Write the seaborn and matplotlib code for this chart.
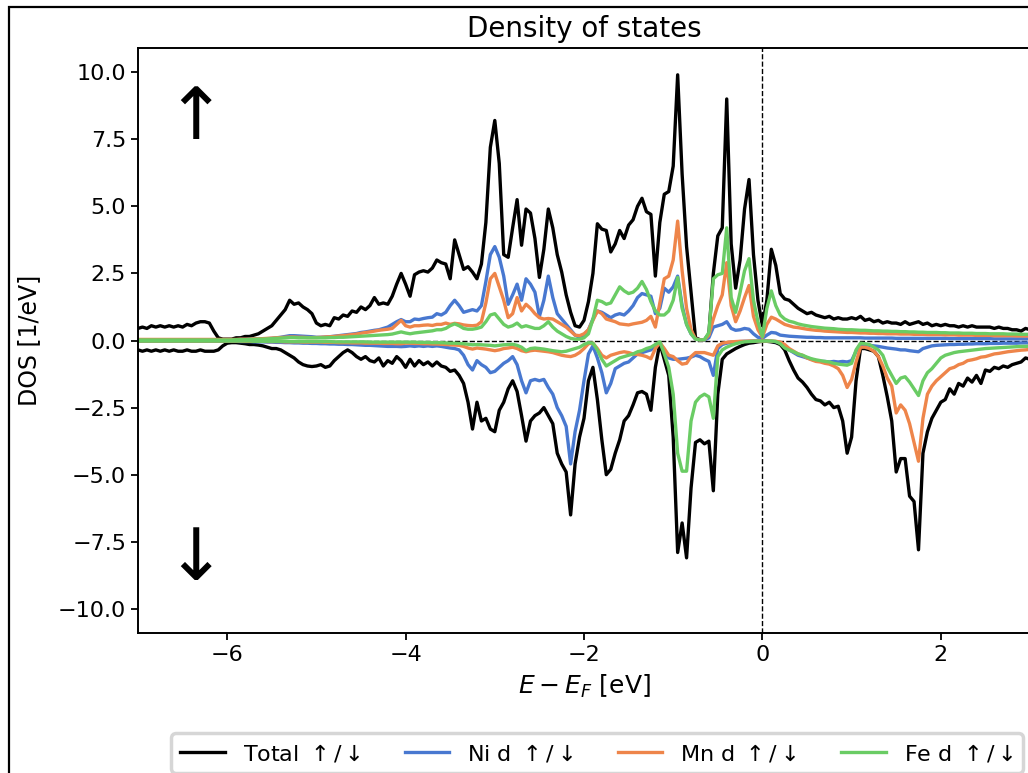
import numpy as np
import matplotlib
matplotlib.use("Agg")
import matplotlib.pyplot as plt
from matplotlib.patches import Rectangle
import seaborn as sns

# Energy grid relative to the Fermi level (eV), 0.05 eV spacing
energy = np.linspace(-7.0, 3.0, 201)

# Total DOS, spin up / spin down (1/eV)
total_up = [
    0.45, 0.50, 0.45, 0.55, 0.50, 0.55, 0.50, 0.55, 0.50, 0.55, 0.50, 0.60, 0.55, 0.65, 0.70, 0.70, 0.65, 0.35, 0.10, 0.05,
    0.05, 0.05, 0.10, 0.10, 0.15, 0.15, 0.20, 0.25, 0.35, 0.45, 0.55, 0.75, 0.95, 1.15, 1.50, 1.35, 1.40, 1.25, 1.15, 1.00,
    0.65, 0.55, 0.60, 0.55, 0.85, 0.80, 0.95, 0.90, 1.10, 1.05, 1.25, 1.15, 1.30, 1.60, 1.35, 1.40, 1.35, 1.65, 2.10, 2.50,
    2.10, 1.65, 2.45, 2.55, 2.60, 2.55, 2.70, 3.00, 2.90, 2.85, 2.30, 3.75, 3.20, 2.65, 2.75, 2.55, 2.30, 2.85, 4.40, 7.20,
    8.20, 6.60, 3.20, 3.10, 4.20, 5.25, 3.55, 4.90, 4.75, 3.80, 2.35, 3.40, 4.90, 4.20, 3.20, 2.55, 1.70, 1.05, 0.55, 0.50,
    0.75, 1.45, 2.50, 4.35, 4.15, 4.10, 3.30, 3.60, 4.10, 3.80, 4.30, 4.50, 5.00, 5.30, 4.80, 4.70, 2.40, 4.40, 5.45, 5.55,
    6.50, 9.90, 6.20, 3.50, 1.80, 0.10, 0.03, 0.03, 0.25, 2.50, 3.90, 4.20, 9.00, 3.60, 1.95, 3.00, 4.90, 6.00, 3.20, 1.50,
    0.55, 1.50, 3.40, 2.80, 1.75, 1.55, 1.50, 1.35, 1.20, 1.10, 1.00, 1.05, 0.95, 0.90, 0.85, 0.90, 0.80, 0.85, 0.80, 0.80,
    0.85, 0.80, 0.90, 0.75, 0.80, 0.70, 0.75, 0.65, 0.70, 0.65, 0.65, 0.60, 0.70, 0.60, 0.65, 0.70, 0.60, 0.65, 0.55, 0.60,
    0.55, 0.60, 0.55, 0.55, 0.50, 0.55, 0.50, 0.55, 0.50, 0.50, 0.50, 0.50, 0.45, 0.50, 0.45, 0.45, 0.40, 0.40, 0.35, 0.45,
    0.40,
]
total_dn = [
    -0.35, -0.40, -0.35, -0.40, -0.35, -0.40, -0.35, -0.40, -0.35, -0.40, -0.40, -0.35, -0.40, -0.40, -0.35, -0.40, -0.40, -0.40, -0.35, -0.20,
    -0.10, -0.08, -0.08, -0.10, -0.12, -0.15, -0.15, -0.17, -0.20, -0.25, -0.30, -0.30, -0.35, -0.45, -0.55, -0.65, -0.80, -0.90, -0.95, -0.97,
    -0.95, -0.90, -1.00, -0.95, -0.75, -0.60, -0.45, -0.35, -0.45, -0.60, -0.70, -0.60, -0.75, -0.80, -0.65, -0.95, -0.75, -0.85, -0.60, -0.75,
    -1.00, -0.70, -0.95, -0.75, -0.90, -0.80, -0.95, -0.80, -0.95, -1.00, -1.15, -1.10, -1.30, -1.60, -2.30, -3.30, -2.30, -3.00, -2.90, -3.30,
    -3.40, -2.60, -2.30, -1.80, -1.50, -1.90, -2.80, -3.75, -3.00, -2.80, -2.70, -2.50, -2.80, -3.10, -4.20, -4.60, -4.90, -6.50, -4.60, -3.60,
    -2.90, -1.50, -1.00, -2.20, -3.70, -5.00, -4.80, -4.20, -3.70, -3.00, -2.80, -2.40, -1.95, -1.90, -2.00, -2.60, -1.00, -0.10, -0.70, -1.30,
    -3.60, -7.90, -6.80, -8.10, -5.50, -3.80, -3.70, -3.85, -3.75, -5.60, -2.00, -0.70, -0.50, -0.40, -0.30, -0.22, -0.15, -0.10, -0.08, -0.05,
    -0.03, -0.03, -0.05, -0.08, -0.15, -0.35, -0.75, -1.10, -1.40, -1.55, -1.75, -2.00, -2.20, -2.25, -2.40, -2.30, -2.50, -2.45, -3.00, -4.20,
    -3.60, -1.50, -0.30, -0.30, -0.35, -0.40, -0.60, -1.30, -2.10, -3.00, -4.90, -4.40, -4.40, -5.80, -6.00, -7.80, -4.20, -3.40, -2.90, -2.60,
    -2.30, -2.20, -1.80, -2.00, -1.60, -1.70, -1.40, -1.55, -1.30, -1.60, -1.10, -1.15, -1.00, -1.05, -0.95, -1.00, -0.90, -0.85, -0.80, -0.65,
    -0.70,
]

# Ni d projected DOS
ni_up = [
    0.03, 0.03, 0.03, 0.03, 0.03, 0.03, 0.03, 0.03, 0.03, 0.03, 0.03, 0.03, 0.03, 0.03, 0.03, 0.03, 0.03, 0.03, 0.03, 0.03,
    0.03, 0.03, 0.03, 0.04, 0.04, 0.05, 0.05, 0.05, 0.06, 0.07, 0.08, 0.10, 0.12, 0.15, 0.18, 0.18, 0.17, 0.16, 0.15, 0.14,
    0.12, 0.12, 0.13, 0.14, 0.16, 0.18, 0.20, 0.22, 0.24, 0.26, 0.30, 0.32, 0.35, 0.38, 0.40, 0.45, 0.50, 0.60, 0.70, 0.78,
    0.70, 0.70, 0.80, 0.78, 0.82, 0.85, 0.87, 1.00, 0.95, 1.05, 1.30, 1.50, 1.30, 1.05, 1.10, 1.15, 1.10, 1.30, 2.20, 3.20,
    3.50, 3.10, 2.40, 1.35, 1.70, 2.10, 1.50, 2.30, 2.10, 1.80, 0.90, 1.50, 2.40, 1.60, 1.00, 0.80, 0.60, 0.40, 0.20, 0.12,
    0.20, 0.40, 0.80, 1.10, 1.05, 0.95, 0.85, 0.95, 1.00, 0.95, 1.10, 1.30, 1.60, 1.75, 1.70, 1.65, 1.00, 1.20, 1.95, 1.80,
    2.00, 2.40, 1.30, 0.60, 0.25, 0.05, 0.02, 0.02, 0.10, 0.50, 0.55, 0.60, 0.70, 0.45, 0.38, 0.40, 0.45, 0.42, 0.25, 0.12,
    0.08, 0.20, 0.30, 0.28, 0.20, 0.18, 0.16, 0.15, 0.14, 0.13, 0.12, 0.12, 0.11, 0.11, 0.10, 0.10, 0.10, 0.10, 0.10, 0.10,
    0.10, 0.10, 0.10, 0.09, 0.09, 0.09, 0.09, 0.09, 0.09, 0.09, 0.08, 0.08, 0.08, 0.08, 0.08, 0.08, 0.08, 0.08, 0.08, 0.08,
    0.08, 0.08, 0.07, 0.07, 0.07, 0.07, 0.07, 0.07, 0.07, 0.07, 0.07, 0.07, 0.06, 0.06, 0.06, 0.06, 0.06, 0.06, 0.06, 0.06,
    0.06,
]
ni_dn = [
    -0.03, -0.03, -0.03, -0.03, -0.03, -0.03, -0.03, -0.03, -0.03, -0.03, -0.03, -0.03, -0.03, -0.03, -0.03, -0.03, -0.03, -0.03, -0.03, -0.03,
    -0.03, -0.03, -0.03, -0.04, -0.04, -0.04, -0.05, -0.05, -0.05, -0.06, -0.06, -0.07, -0.07, -0.08, -0.08, -0.09, -0.09, -0.10, -0.10, -0.11,
    -0.11, -0.12, -0.12, -0.13, -0.13, -0.14, -0.14, -0.15, -0.15, -0.16, -0.17, -0.18, -0.18, -0.19, -0.20, -0.21, -0.22, -0.22, -0.22, -0.23,
    -0.22, -0.20, -0.22, -0.20, -0.22, -0.20, -0.22, -0.20, -0.22, -0.25, -0.28, -0.30, -0.35, -0.55, -0.90, -1.10, -0.75, -0.90, -1.00, -1.20,
    -1.15, -1.00, -0.85, -0.75, -0.60, -0.90, -1.50, -1.95, -1.50, -1.45, -1.50, -1.45, -1.75, -2.00, -2.50, -2.80, -3.20, -4.60, -3.40, -2.60,
    -1.50, -0.50, -0.20, -0.65, -1.20, -1.95, -1.60, -1.05, -0.95, -0.85, -0.80, -0.65, -0.50, -0.45, -0.40, -0.35, -0.20, -0.08, -0.35, -0.65,
    -0.70, -0.70, -0.68, -0.66, -0.62, -0.55, -0.60, -0.70, -0.78, -1.30, -0.30, -0.15, -0.10, -0.07, -0.05, -0.04, -0.03, -0.03, -0.02, -0.02,
    -0.02, -0.02, -0.03, -0.04, -0.08, -0.20, -0.35, -0.45, -0.55, -0.60, -0.65, -0.70, -0.75, -0.78, -0.78, -0.80, -0.78, -0.80, -0.78, -0.80,
    -0.75, -0.40, -0.15, -0.15, -0.18, -0.20, -0.22, -0.25, -0.28, -0.30, -0.32, -0.35, -0.35, -0.38, -0.40, -0.42, -0.30, -0.25, -0.20, -0.18,
    -0.17, -0.16, -0.15, -0.15, -0.14, -0.14, -0.13, -0.13, -0.12, -0.12, -0.12, -0.11, -0.11, -0.11, -0.10, -0.10, -0.10, -0.10, -0.09, -0.09,
    -0.09,
]

# Mn d projected DOS
mn_up = [
    0.04, 0.04, 0.04, 0.04, 0.04, 0.04, 0.04, 0.04, 0.04, 0.04, 0.04, 0.04, 0.04, 0.04, 0.04, 0.04, 0.04, 0.04, 0.04, 0.04,
    0.04, 0.04, 0.04, 0.05, 0.05, 0.05, 0.06, 0.06, 0.07, 0.08, 0.09, 0.10, 0.11, 0.12, 0.13, 0.13, 0.12, 0.12, 0.11, 0.11,
    0.11, 0.12, 0.13, 0.14, 0.15, 0.17, 0.18, 0.20, 0.22, 0.24, 0.27, 0.30, 0.32, 0.35, 0.38, 0.40, 0.42, 0.45, 0.60, 0.75,
    0.55, 0.50, 0.55, 0.55, 0.57, 0.58, 0.56, 0.60, 0.60, 0.65, 0.60, 0.64, 0.62, 0.58, 0.56, 0.55, 0.57, 0.70, 1.40, 2.30,
    2.50, 2.00, 1.50, 0.85, 1.00, 1.60, 1.10, 1.35, 1.20, 1.00, 0.85, 0.80, 0.82, 0.80, 0.70, 0.60, 0.50, 0.35, 0.20, 0.18,
    0.25, 0.40, 0.75, 1.10, 1.00, 0.80, 0.75, 0.70, 0.62, 0.60, 0.58, 0.62, 0.65, 0.68, 0.75, 0.90, 0.50, 1.40, 2.30, 2.40,
    3.00, 4.45, 2.60, 1.20, 0.40, 0.06, 0.02, 0.03, 0.20, 0.80, 1.30, 1.70, 2.90, 1.30, 0.70, 1.10, 1.60, 2.05, 0.90, 0.40,
    0.12, 0.60, 0.87, 0.80, 0.70, 0.60, 0.55, 0.50, 0.48, 0.45, 0.42, 0.40, 0.38, 0.37, 0.35, 0.34, 0.33, 0.32, 0.31, 0.30,
    0.30, 0.29, 0.28, 0.28, 0.27, 0.27, 0.26, 0.26, 0.25, 0.25, 0.25, 0.24, 0.24, 0.24, 0.23, 0.23, 0.23, 0.22, 0.22, 0.22,
    0.22, 0.21, 0.21, 0.21, 0.20, 0.20, 0.20, 0.20, 0.19, 0.19, 0.19, 0.19, 0.18, 0.18, 0.18, 0.18, 0.18, 0.17, 0.17, 0.17,
    0.17,
]
mn_dn = [
    -0.02, -0.02, -0.02, -0.02, -0.02, -0.02, -0.02, -0.02, -0.02, -0.02, -0.02, -0.02, -0.02, -0.02, -0.02, -0.02, -0.02, -0.02, -0.02, -0.02,
    -0.02, -0.02, -0.02, -0.02, -0.03, -0.03, -0.03, -0.03, -0.03, -0.04, -0.04, -0.04, -0.04, -0.05, -0.05, -0.05, -0.05, -0.06, -0.06, -0.06,
    -0.06, -0.06, -0.07, -0.07, -0.07, -0.08, -0.08, -0.08, -0.09, -0.09, -0.09, -0.10, -0.10, -0.10, -0.10, -0.11, -0.11, -0.11, -0.12, -0.12,
    -0.10, -0.10, -0.11, -0.11, -0.12, -0.12, -0.13, -0.13, -0.14, -0.15, -0.16, -0.17, -0.18, -0.22, -0.28, -0.32, -0.28, -0.30, -0.32, -0.35,
    -0.38, -0.35, -0.30, -0.28, -0.25, -0.30, -0.38, -0.42, -0.38, -0.36, -0.38, -0.40, -0.42, -0.45, -0.50, -0.55, -0.58, -0.60, -0.55, -0.45,
    -0.30, -0.12, -0.10, -0.30, -0.55, -0.65, -0.55, -0.50, -0.45, -0.42, -0.45, -0.50, -0.52, -0.55, -0.60, -0.68, -0.30, -0.08, -0.30, -0.55,
    -0.60, -0.75, -0.88, -0.85, -0.60, -0.45, -0.45, -0.45, -0.50, -0.55, -0.20, -0.10, -0.07, -0.05, -0.04, -0.03, -0.03, -0.02, -0.02, -0.02,
    -0.02, -0.02, -0.02, -0.03, -0.06, -0.15, -0.30, -0.40, -0.50, -0.55, -0.65, -0.72, -0.78, -0.80, -0.85, -0.88, -0.95, -1.05, -1.30, -1.75,
    -1.45, -0.80, -0.25, -0.25, -0.30, -0.40, -0.60, -0.95, -1.40, -1.70, -2.70, -2.40, -2.60, -3.10, -3.80, -4.50, -2.90, -2.00, -1.70, -1.50,
    -1.35, -1.20, -1.05, -1.00, -0.90, -0.85, -0.75, -0.72, -0.68, -0.62, -0.60, -0.55, -0.50, -0.48, -0.45, -0.42, -0.40, -0.38, -0.36, -0.35,
    -0.33,
]

# Fe d projected DOS
fe_up = [
    0.02, 0.02, 0.02, 0.02, 0.02, 0.02, 0.02, 0.02, 0.02, 0.02, 0.02, 0.02, 0.02, 0.02, 0.02, 0.02, 0.02, 0.02, 0.02, 0.02,
    0.02, 0.02, 0.03, 0.03, 0.03, 0.04, 0.04, 0.05, 0.05, 0.06, 0.07, 0.08, 0.09, 0.10, 0.11, 0.11, 0.10, 0.10, 0.10, 0.10,
    0.10, 0.10, 0.10, 0.11, 0.11, 0.12, 0.12, 0.13, 0.14, 0.15, 0.16, 0.17, 0.18, 0.19, 0.20, 0.21, 0.22, 0.24, 0.28, 0.32,
    0.28, 0.25, 0.28, 0.30, 0.32, 0.34, 0.36, 0.40, 0.40, 0.45, 0.55, 0.62, 0.55, 0.45, 0.42, 0.42, 0.45, 0.50, 0.70, 0.95,
    1.00, 0.80, 0.60, 0.50, 0.55, 0.65, 0.50, 0.55, 0.50, 0.45, 0.45, 0.55, 0.70, 0.50, 0.35, 0.25, 0.15, 0.08, 0.05, 0.05,
    0.10, 0.25, 0.80, 1.50, 1.45, 1.35, 1.40, 1.70, 2.00, 1.85, 1.75, 1.80, 1.95, 2.20, 1.90, 1.45, 1.10, 0.95, 0.95, 1.10,
    1.50, 2.35, 1.20, 0.60, 0.25, 0.05, 0.02, 0.03, 0.30, 2.30, 2.45, 2.50, 4.20, 1.60, 1.05, 1.80, 2.60, 3.05, 1.50, 0.70,
    0.14, 1.20, 1.85, 1.30, 0.95, 0.80, 0.72, 0.68, 0.62, 0.58, 0.55, 0.52, 0.50, 0.48, 0.46, 0.45, 0.44, 0.42, 0.41, 0.40,
    0.40, 0.39, 0.38, 0.38, 0.37, 0.36, 0.36, 0.35, 0.35, 0.34, 0.34, 0.33, 0.33, 0.32, 0.32, 0.31, 0.31, 0.30, 0.30, 0.30,
    0.29, 0.29, 0.28, 0.28, 0.28, 0.27, 0.27, 0.27, 0.26, 0.26, 0.26, 0.25, 0.25, 0.25, 0.25, 0.24, 0.24, 0.24, 0.23, 0.23,
    0.23,
]
fe_dn = [
    -0.02, -0.02, -0.02, -0.02, -0.02, -0.02, -0.02, -0.02, -0.02, -0.02, -0.02, -0.02, -0.02, -0.02, -0.02, -0.02, -0.02, -0.02, -0.02, -0.02,
    -0.02, -0.02, -0.02, -0.02, -0.02, -0.02, -0.03, -0.03, -0.03, -0.03, -0.03, -0.03, -0.03, -0.03, -0.04, -0.04, -0.04, -0.04, -0.04, -0.04,
    -0.04, -0.04, -0.04, -0.04, -0.05, -0.05, -0.05, -0.05, -0.05, -0.05, -0.05, -0.05, -0.06, -0.06, -0.06, -0.06, -0.06, -0.06, -0.06, -0.06,
    -0.06, -0.06, -0.06, -0.07, -0.07, -0.07, -0.08, -0.08, -0.08, -0.09, -0.10, -0.10, -0.11, -0.12, -0.14, -0.16, -0.15, -0.16, -0.17, -0.18,
    -0.20, -0.18, -0.16, -0.15, -0.14, -0.18, -0.25, -0.38, -0.30, -0.28, -0.30, -0.32, -0.35, -0.38, -0.40, -0.42, -0.40, -0.35, -0.30, -0.25,
    -0.15, -0.08, -0.10, -0.35, -0.70, -0.95, -0.85, -0.75, -0.65, -0.60, -0.55, -0.50, -0.42, -0.38, -0.30, -0.25, -0.15, -0.05, -0.50, -1.00,
    -2.00, -4.20, -4.87, -4.87, -3.00, -2.30, -2.10, -2.00, -2.10, -2.90, -0.60, -0.35, -0.25, -0.18, -0.12, -0.08, -0.05, -0.04, -0.03, -0.02,
    -0.02, -0.02, -0.02, -0.04, -0.12, -0.28, -0.36, -0.42, -0.50, -0.55, -0.62, -0.68, -0.72, -0.75, -0.78, -0.80, -0.85, -0.88, -0.90, -0.92,
    -0.85, -0.35, -0.10, -0.12, -0.15, -0.25, -0.35, -0.55, -1.00, -1.30, -1.60, -1.40, -1.35, -1.55, -1.80, -2.05, -1.50, -1.20, -1.05, -0.85,
    -0.65, -0.55, -0.50, -0.45, -0.42, -0.40, -0.38, -0.36, -0.34, -0.32, -0.30, -0.29, -0.28, -0.27, -0.26, -0.25, -0.24, -0.23, -0.22, -0.22,
    -0.21,
]

series_names = ["Total", "Ni d", "Mn d", "Fe d"]
series_up = [total_up, ni_up, mn_up, fe_up]
series_dn = [total_dn, ni_dn, mn_dn, fe_dn]

muted = sns.color_palette("muted")
series_colors = ["black", muted[0], muted[1], muted[2]]

W, H = 1028, 773
fig = plt.figure(figsize=(W / 100, H / 100), dpi=100)
ax = fig.add_axes([138 / W, (H - 633) / H, (1030 - 138) / W, (633 - 48) / H])

for name, up, dn, col in zip(series_names, series_up, series_dn, series_colors):
    sns.lineplot(x=energy, y=up, ax=ax, color=col, lw=2.4,
                 label=name + r" $\uparrow/\downarrow$")
    sns.lineplot(x=energy, y=dn, ax=ax, color=col, lw=2.4, label="_nolegend_")

ax.axhline(0, color="black", ls="--", lw=1.0, zorder=1)
ax.axvline(0, color="black", ls="--", lw=1.0, zorder=1)

ax.set_xlim(-7, 3)
ax.set_ylim(-10.9, 10.9)
ax.set_xticks([-6, -4, -2, 0, 2])
ax.set_yticks([-10, -7.5, -5, -2.5, 0, 2.5, 5, 7.5, 10])
ax.set_yticklabels(["\u221210.0", "\u22127.5", "\u22125.0", "\u22122.5", "0.0",
                    "2.5", "5.0", "7.5", "10.0"])
ax.tick_params(labelsize=16, width=1.3, length=5)
for sp in ax.spines.values():
    sp.set_linewidth(1.4)

ax.set_title("Density of states", fontsize=20, pad=8)
ax.set_xlabel(r"$E - E_F$ [eV]", fontsize=18, labelpad=6)
ax.set_ylabel("DOS [1/eV]", fontsize=17, labelpad=12)

# spin channel markers
ax.text(-6.36, 8.25, "\u2191", fontsize=52, ha="center", va="center")
ax.text(-6.36, -8.2, "\u2193", fontsize=52, ha="center", va="center")

leg = ax.legend(loc="upper center", bbox_to_anchor=(597 / W, 1 - 722 / H),
                bbox_transform=fig.transFigure, ncol=4, fontsize=16,
                frameon=True, fancybox=True, handlelength=2.0)
leg.get_frame().set_edgecolor("0.8")
leg.get_frame().set_linewidth(2.5)

# figure frame
fig.add_artist(Rectangle((8.5 / W, -0.1), 1.2, 1.1 - 7.5 / H,
                         transform=fig.transFigure, fill=False,
                         lw=1.6, ec="black"))

fig.savefig("out.png", dpi=100)
